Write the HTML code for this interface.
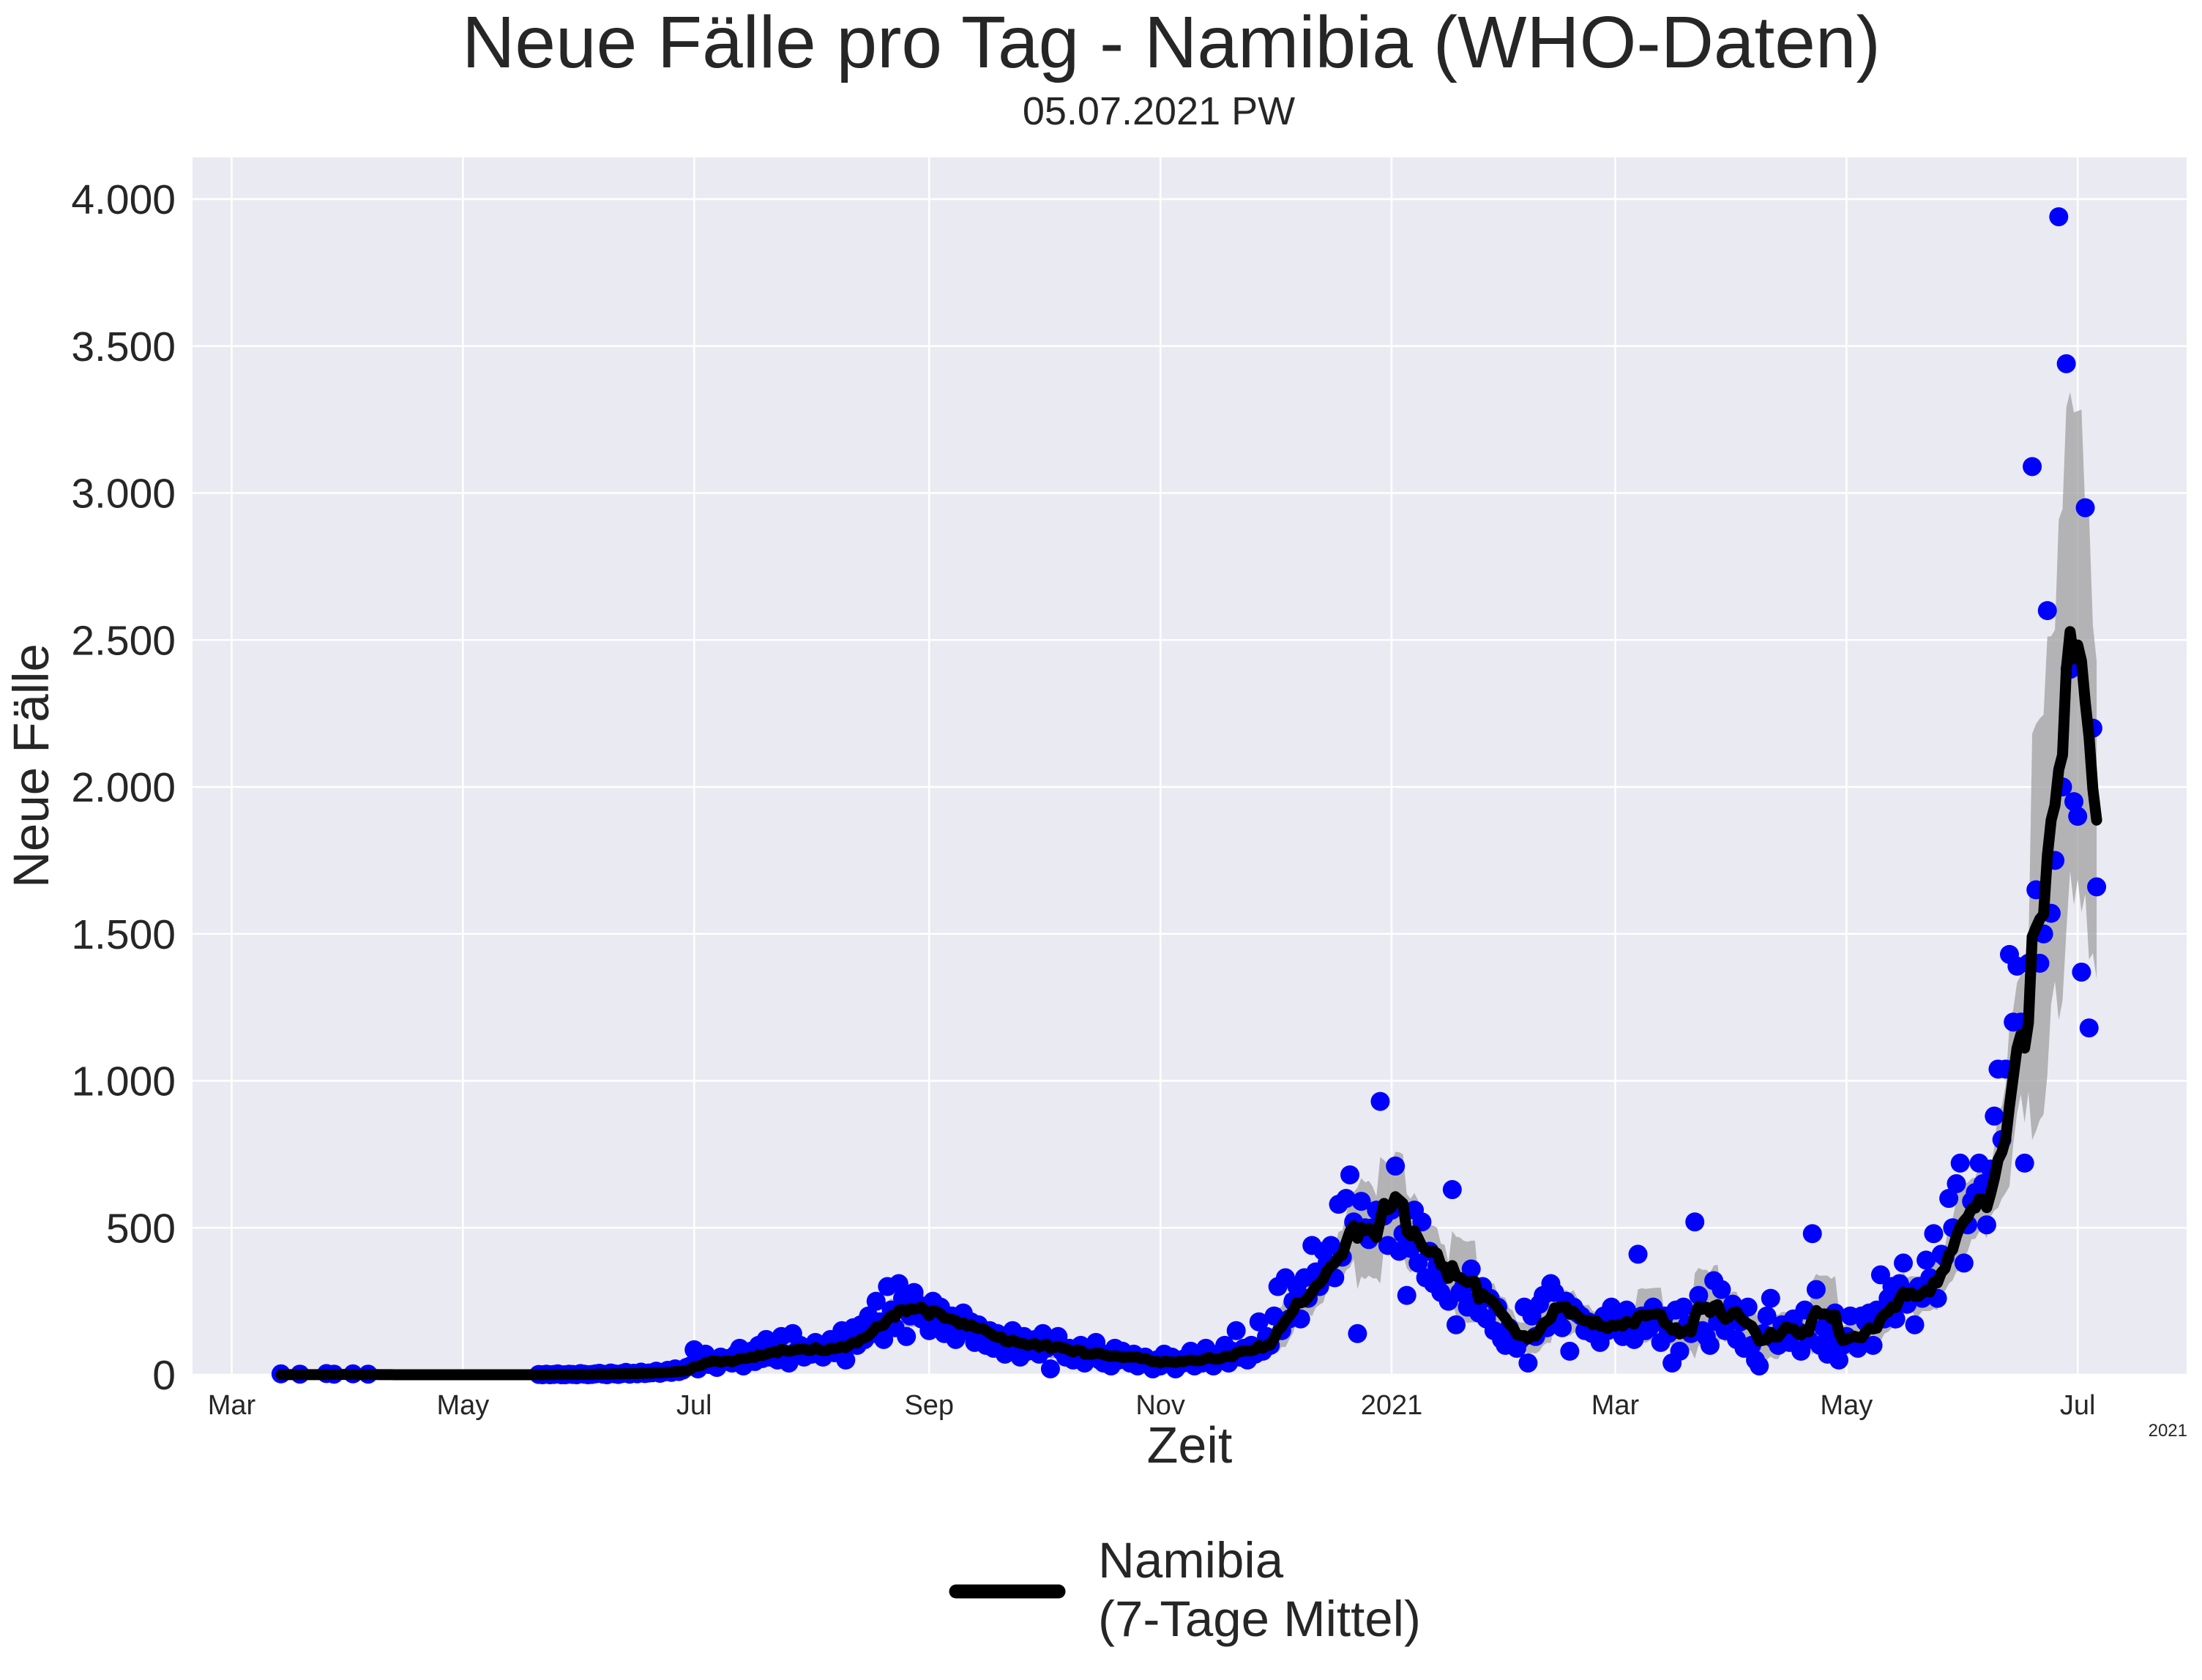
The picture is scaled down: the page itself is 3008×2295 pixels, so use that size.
<!DOCTYPE html>
<html><head><meta charset="utf-8">
<style>
html,body{margin:0;padding:0;background:#fff;}
svg{display:block;font-family:"Liberation Sans",Arial,sans-serif;}
</style></head>
<body>
<svg id="chart" width="3008" height="2295" viewBox="0 0 3008 2295" xmlns="http://www.w3.org/2000/svg">
<rect x="0" y="0" width="3008" height="2295" fill="#ffffff"/>
<text x="1600" y="92" text-anchor="middle" font-size="100" fill="#262626">Neue Fälle pro Tag - Namibia (WHO-Daten)</text>
<text x="1583" y="170" text-anchor="middle" font-size="54" fill="#262626">05.07.2021 PW</text>
<rect x="263" y="215" width="2724" height="1663" fill="#eaeaf2"/>
<g id="grid"></g>
<g id="band"></g>
<g id="points"></g>
<g id="line"></g>
<g id="yticks"></g>
<g id="xticks"></g>
<text x="1625" y="1998" text-anchor="middle" font-size="70" fill="#262626">Zeit</text>
<text transform="translate(66,1046) rotate(-90)" text-anchor="middle" font-size="69" fill="#262626">Neue Fälle</text>
<text x="2988" y="1962" text-anchor="end" font-size="24" fill="#262626">2021</text>
<g>
<line x1="1306" y1="2174" x2="1446" y2="2174" stroke="#000" stroke-width="19" stroke-linecap="round"/>
<text x="1500" y="2155" font-size="69" fill="#262626">Namibia</text>
<text x="1500" y="2235" font-size="69" fill="#262626">(7-Tage Mittel)</text>
</g>
</svg>
<script>
// Days counted from 2020-03-01
const earlyDays = [13,18,25,27,32,36];
const earlyCases = [3,2,4,2,3,2];
const startDay = 81;
const cases = [
1,0,2,0,1,3,0,0,2,1, 0,4,2,0,1,3,5,2,0,6, 3,1,4,8,2,5,3,9,4,6,
7,12,5,9,15,8,20,11,16,25,
30,85,20,40,70,35,50,25,60,45,
55,40,70,90,30,60,80,45,100,55,
120,60,90,50,130,70,40,140,80,100,
60,90,70,110,85,60,100,120,75,90,
150,50,130,160,100,170,120,200,140,250,
180,120,300,220,160,310,260,130,200,280,
240,190,220,150,250,170,230,140,180,200,
120,160,210,150,180,110,170,130,100,150,
90,140,120,70,110,150,100,60,130,80,
100,120,70,140,90,20,110,130,80,60,
90,50,70,100,40,80,60,110,50,40,
70,30,90,50,80,60,40,70,30,50,
60,40,20,50,30,70,40,60,20,50,
40,60,80,30,50,40,90,60,30,70,
50,100,40,80,150,60,90,50,100,70,
180,80,130,100,200,300,150,330,190,250,
300,190,330,260,440,350,300,420,380,440,
330,580,400,600,680,520,140,590,500,
460,500,560,930,540,440,560,710,420,480,
270,430,560,380,520,330,420,310,370,280,
340,250,630,170,280,300,230,360,250,210,
300,190,260,150,230,120,100,160,110,90,
120,230,40,200,130,240,270,160,310,280,
200,160,250,80,230,210,200,150,180,140,
170,110,200,150,230,160,180,130,220,170,
120,410,200,150,160,230,180,110,200,140,
40,220,80,230,170,140,520,270,150,130,
100,320,180,290,150,200,240,120,180,90,
230,100,50,30,140,200,260,120,100,170,
150,110,190,150,80,220,120,480,290,100,
160,70,120,210,50,100,130,200,110,90,
200,180,210,100,220,340,190,260,300,190,
310,380,240,280,170,300,260,390,330,480,
260,410,400,600,500,650,720,380,510,590,
620,720,650,510,700,880,1040,800,1040,1430,
1200,1390,1200,720,1400,3090,1650,1400,1500,2600,
1570,1750,3940,2000,3440,2400,1950,1900,1370,2950,1180,2200,1660
];
const yTicks = [0,500,1000,1500,2000,2500,3000,3500,4000];
const yTickLabels = ["0","500","1.000","1.500","2.000","2.500","3.000","3.500","4.000"];
const xTickDays = [0,61,122,184,245,306,365,426,487];
const xTickLabels = ["Mar","May","Jul","Sep","Nov","2021","Mar","May","Jul"];

const NS="http://www.w3.org/2000/svg";
const L=263,R=2987,T=215,B=1878;
const X=d=>316.5+d*5.178;
const Y=v=>B-v*(1606/4000);
function mk(tag,attrs,parent){const e=document.createElementNS(NS,tag);for(const k in attrs)e.setAttribute(k,attrs[k]);parent.appendChild(e);return e;}
const grid=document.getElementById('grid');
yTicks.forEach((v,i)=>{
  const l=mk('line',{x1:L,x2:R,y1:Y(v),y2:Y(v),stroke:'#fff','stroke-width':2.5},grid);
  
  
  const t=mk('text',{x:240,y:Y(v)+20,'text-anchor':'end','font-size':57,fill:'#262626'},document.getElementById('yticks'));
  t.textContent=yTickLabels[i];
  
  
});
xTickDays.forEach((d,i)=>{
  const l=mk('line',{x1:X(d),x2:X(d),y1:T,y2:B,stroke:'#fff','stroke-width':2.5},grid);
  
  
  const t=mk('text',{x:X(d),y:1932,'text-anchor':'middle','font-size':38,fill:'#262626'},document.getElementById('xticks'));
  t.textContent=xTickLabels[i];
  
  
});
const series={};
earlyDays.forEach((d,i)=>series[d]=earlyCases[i]);
cases.forEach((v,i)=>series[startDay+i]=v);
const lastDay=startDay+cases.length-1;
const firstDay=earlyDays[0];
const mean=[],sd=[],dd=[];
for(let d=firstDay;d<=lastDay;d++){
  let vals=[];for(let k=d-6;k<=d;k++)vals.push(series[k]||0);
  const m=vals.reduce((a,b)=>a+b,0)/7;
  const s=Math.sqrt(vals.reduce((a,b)=>a+(b-m)*(b-m),0)/7);
  dd.push(d);mean.push(m);sd.push(s);
}
let up=dd.map((d,i)=>X(d)+','+Y(mean[i]+sd[i]));
let lo=dd.map((d,i)=>X(d)+','+Y(Math.max(0,mean[i]-sd[i]))).reverse();
const band=mk('polygon',{points:up.concat(lo).join(' '),fill:'#a0a0a0','fill-opacity':0.75},document.getElementById('band'));


const pts=document.getElementById('points');
Object.keys(series).forEach(k=>{
  const c=mk('circle',{cx:X(+k),cy:Y(series[k]),r:13,fill:'#0000ff'},pts);
  
  
});
const line=mk('polyline',{points:dd.map((d,i)=>X(d)+','+Y(mean[i])).join(' '),fill:'none',stroke:'#000','stroke-width':15,'stroke-linejoin':'round','stroke-linecap':'round'},document.getElementById('line'));


</script>
</body></html>
